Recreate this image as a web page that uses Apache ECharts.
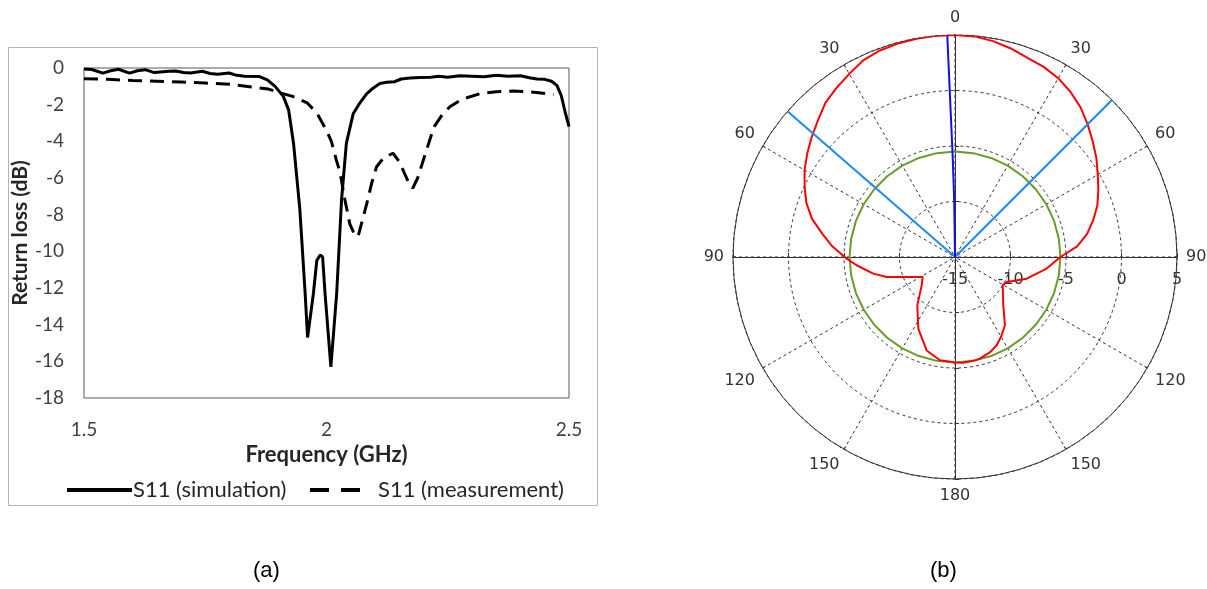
<!DOCTYPE html>
<html><head><meta charset="utf-8">
<script src="https://cdn.jsdelivr.net/npm/echarts@6/dist/echarts.min.js"></script>
<style>html,body{margin:0;padding:0;background:#fff}#c{width:1207px;height:589px}</style>
</head><body><div id="c"></div>
<script>
// ---------- (a) return loss ----------
const FREQ_SIM = [1.500,1.516,1.539,1.555,1.571,1.594,1.610,1.626,1.645,1.657,1.675,1.689,1.705,1.720,1.744,1.760,1.776,1.799,1.815,1.831,1.862,1.878,1.894,1.911,1.922,1.932,1.945,1.956,1.961,1.973,1.980,1.987,1.992,1.997,2.009,2.021,2.031,2.041,2.055,2.069,2.083,2.096,2.110,2.124,2.140,2.154,2.172,2.193,2.215,2.232,2.250,2.275,2.300,2.325,2.350,2.374,2.400,2.421,2.434,2.450,2.464,2.475,2.484,2.492,2.500];
const S11_SIM  = [-0.05,-0.08,-0.28,-0.15,-0.07,-0.28,-0.15,-0.09,-0.25,-0.22,-0.18,-0.16,-0.25,-0.27,-0.18,-0.30,-0.34,-0.27,-0.40,-0.45,-0.47,-0.65,-1.00,-1.55,-2.30,-4.10,-7.70,-12.30,-14.70,-12.30,-10.50,-10.20,-10.30,-12.30,-16.30,-12.30,-7.20,-4.10,-2.50,-1.90,-1.40,-1.10,-0.85,-0.78,-0.75,-0.60,-0.55,-0.52,-0.50,-0.45,-0.50,-0.42,-0.45,-0.48,-0.40,-0.45,-0.42,-0.55,-0.60,-0.62,-0.72,-0.95,-1.50,-2.40,-3.20];
const FREQ_MEAS = [1.500,1.550,1.600,1.650,1.700,1.750,1.800,1.850,1.880,1.910,1.930,1.960,1.980,2.000,2.010,2.020,2.028,2.038,2.048,2.058,2.065,2.072,2.083,2.093,2.103,2.118,2.137,2.150,2.160,2.172,2.178,2.188,2.200,2.212,2.222,2.240,2.255,2.280,2.317,2.350,2.385,2.420,2.447,2.468];
const S11_MEAS  = [-0.58,-0.62,-0.68,-0.72,-0.76,-0.82,-0.88,-1.05,-1.15,-1.40,-1.55,-1.90,-2.45,-3.40,-4.00,-5.00,-5.70,-7.20,-8.50,-9.10,-9.20,-8.50,-7.40,-6.30,-5.40,-4.90,-4.65,-5.10,-5.70,-6.40,-6.55,-6.00,-5.00,-4.00,-3.20,-2.50,-2.10,-1.70,-1.40,-1.30,-1.25,-1.30,-1.38,-1.46];
const X_TICKS = [1.5, 2, 2.5];
const Y_TICKS = [0, -2, -4, -6, -8, -10, -12, -14, -16, -18];
const SERIES_NAMES = ['S11 (simulation)', 'S11 (measurement)'];

// ---------- (b) radiation pattern ----------
const ANGLE_LABELS = [0, 30, 60, 90, 120, 150, 180, 150, 120, 90, 60, 30];
const RADIUS_TICKS = [-15, -10, -5, 0, 5];
const RED_ANGLE = [0, 5, 10, 15, 20, 25, 30, 35, 40, 45, 50, 55, 60, 65, 70, 75, 80, 85, 90, 97.2, 106.8, 115.8, 120.7, 135, 143.8, 150, 154.7, 160, 166.2, 170, 175.5, 180, 188.3, 196.9, 207.1, 218, 229.6, 238.2, 247.5, 253.7, 258.5, 265.2, 269.1, 275, 280, 285, 290, 295, 300, 305, 310, 315, 320, 325, 330, 335, 340, 345, 350, 355, 360];
const RED_DB    = [5.0, 4.95, 4.75, 4.45, 4.1, 3.9, 3.6, 3.15, 2.6, 1.9, 1.2, 0.55, -0.15, -0.75, -1.35, -2.1, -2.9, -3.95, -5.5, -6.68, -8.25, -9.83, -10.0, -8.85, -7.38, -6.7, -6.2, -5.85, -5.57, -5.5, -5.45, -5.5, -5.6, -6.2, -7.75, -9.48, -11.06, -11.58, -10.29, -8.59, -7.49, -6.1, -5.24, -3.9, -2.85, -1.65, -0.75, -0.05, 0.65, 1.25, 1.85, 2.45, 3.15, 3.6, 4.05, 4.55, 4.8, 4.9, 4.97, 5.0, 5.0];
const GREEN_ANGLE = [0,10,20,30,40,50,60,70,80,90,100,110,120,130,140,150,160,170,180,190,200,210,220,230,240,250,260,270,280,290,300,310,320,330,340,350,360];
const GREEN_DB    = [-5.5,-5.5,-5.5,-5.5,-5.5,-5.5,-5.5,-5.5,-5.5,-5.5,-5.5,-5.5,-5.5,-5.5,-5.5,-5.5,-5.5,-5.5,-5.5,-5.5,-5.5,-5.5,-5.5,-5.5,-5.5,-5.5,-5.5,-5.5,-5.5,-5.5,-5.5,-5.5,-5.5,-5.5,-5.5,-5.5,-5.5];
const BEAM_L_ANGLE = [311, 311];
const BEAM_L_DB    = [-15, 5];
const BEAM_R_ANGLE = [45, 45];
const BEAM_R_DB    = [-15, 5];
const MAIN_ANGLE = [0, 359.2, 358.7, 358];
const MAIN_DB    = [-15, -10, -6.1, 5];

const pairs = (xs, ys) => xs.map((x, i) => [x, ys[i]]);
const polarPairs = (angles, dbs) => angles.map((a, i) => [dbs[i], a]);

const chart = echarts.init(document.getElementById('c'), null, {renderer: 'canvas'});
const LFONT = 'Lato, "Open Sans", sans-serif';
const PFONT = '"DejaVu Sans", Verdana, sans-serif';
const gridDash = {type: [3, 3], color: '#333', width: 1};
const SOLID_ICON = 'path://M0,0H65V4H0Z';
const DASH_ICON = 'path://M0,0H19V4H0Z M31,0H50V4H31Z';
const crossTick = {show: true, inside: true, length: 4, lineStyle: {color: '#333'}};

chart.setOption({
  animation: false,
  backgroundColor: '#fff',
  graphic: [
    {type: 'rect', shape: {x: 8.5, y: 47.5, width: 589, height: 458}, style: {fill: 'none', stroke: '#b3b3b3', lineWidth: 1}, silent: true},
    {type: 'text', left: 253, top: 560, style: {text: '(a)', font: '22px "Liberation Sans", Arial, sans-serif', fill: '#000'}},
    {type: 'text', left: 930, top: 560, style: {text: '(b)', font: '22px "Liberation Sans", Arial, sans-serif', fill: '#000'}}
  ],
  legend: [
    {data: [{name: SERIES_NAMES[0], icon: SOLID_ICON}], left: 62, top: 474, symbolKeepAspect: false,
     itemWidth: 65, itemHeight: 4, selectedMode: false,
     textStyle: {fontFamily: LFONT, fontSize: 22, color: '#262626', padding: [0, 0, 0, -4]}},
    {data: [{name: SERIES_NAMES[1], icon: DASH_ICON}], left: 305, top: 474, symbolKeepAspect: false,
     itemWidth: 50, itemHeight: 4, selectedMode: false,
     textStyle: {fontFamily: LFONT, fontSize: 22, color: '#262626', padding: [0, 0, 0, 13]}}
  ],
  grid: [
    {left: 84, top: 68, width: 485, height: 330, show: true, borderColor: '#595959', borderWidth: 1, backgroundColor: 'transparent'},
    {left: 733, top: 35, width: 444, height: 444, show: false}
  ],
  xAxis: [
    {gridIndex: 0, type: 'value', min: X_TICKS[0], max: X_TICKS[X_TICKS.length - 1], interval: 0.5,
     name: 'Frequency (GHz)', nameLocation: 'middle', nameGap: 46,
     nameTextStyle: {fontFamily: LFONT, fontSize: 22, fontWeight: 'bold', color: '#262626'},
     axisLine: {show: false}, axisTick: {show: false}, splitLine: {show: false},
     axisLabel: {margin: 22, fontFamily: LFONT, fontSize: 19, color: '#404040'}},
    {gridIndex: 1, type: 'value', min: -20, max: 20, interval: 5,
     axisLine: {onZero: true, lineStyle: {color: '#333', width: 1}},
     axisTick: crossTick, axisLabel: {show: false}, splitLine: {show: false}}
  ],
  yAxis: [
    {gridIndex: 0, type: 'value', min: Y_TICKS[Y_TICKS.length - 1], max: Y_TICKS[0], interval: 2,
     name: 'Return loss (dB)', nameLocation: 'middle', nameGap: 46,
     nameTextStyle: {fontFamily: LFONT, fontSize: 21, fontWeight: 'bold', color: '#262626'},
     axisLine: {show: false}, axisTick: {show: false}, splitLine: {show: false},
     axisLabel: {margin: 20, fontFamily: LFONT, fontSize: 19, color: '#404040'}},
    {gridIndex: 1, type: 'value', min: -20, max: 20, interval: 5,
     axisLine: {onZero: true, lineStyle: {color: '#333', width: 1}},
     axisTick: crossTick, axisLabel: {show: false}, splitLine: {show: false}}
  ],
  polar: [
    {center: [955, 257], radius: 222},
    {center: [955, 257], radius: 222}
  ],
  angleAxis: [
    {polarIndex: 0, type: 'value', min: 0, max: 360, interval: 30, startAngle: 90, clockwise: true,
     axisLine: {lineStyle: {color: '#333', width: 1}},
     axisTick: {show: true, inside: true, length: 3, lineStyle: {color: '#333'}},
     axisLabel: {margin: 9, fontFamily: PFONT, fontSize: 16, color: '#333',
                 formatter: v => String(ANGLE_LABELS[Math.round(v / 30) % 12])},
     splitLine: {show: true, lineStyle: gridDash}},
    {polarIndex: 1, type: 'value', min: 0, max: 360, startAngle: 0, show: false}
  ],
  radiusAxis: [
    {polarIndex: 0, type: 'value', min: RADIUS_TICKS[0], max: RADIUS_TICKS[RADIUS_TICKS.length - 1], interval: 5,
     axisLine: {show: false}, axisTick: {show: false}, axisLabel: {show: false},
     splitLine: {show: true, lineStyle: gridDash}},
    {polarIndex: 1, type: 'value', min: RADIUS_TICKS[0], max: RADIUS_TICKS[RADIUS_TICKS.length - 1], interval: 5,
     axisLine: {show: false}, axisTick: {show: false},
     axisLabel: {margin: -23, verticalAlign: 'middle', align: 'center', fontFamily: PFONT, fontSize: 16, color: '#333'},
     splitLine: {show: false}}
  ],
  series: [
    {name: SERIES_NAMES[0], type: 'line', xAxisIndex: 0, yAxisIndex: 0, data: pairs(FREQ_SIM, S11_SIM),
     symbol: 'none', showSymbol: false, lineStyle: {color: '#000', width: 3}, itemStyle: {color: '#000'}},
    {name: SERIES_NAMES[1], type: 'line', xAxisIndex: 0, yAxisIndex: 0, data: pairs(FREQ_MEAS, S11_MEAS),
     symbol: 'none', showSymbol: false, lineStyle: {color: '#000', width: 3, type: [14, 8]}, itemStyle: {color: '#000'}},
    {name: 'green', type: 'line', coordinateSystem: 'polar', polarIndex: 0, data: polarPairs(GREEN_ANGLE, GREEN_DB),
     symbol: 'none', lineStyle: {color: '#6a9a2a', width: 2}, z: 3},
    {name: 'red', type: 'line', coordinateSystem: 'polar', polarIndex: 0, data: polarPairs(RED_ANGLE, RED_DB),
     symbol: 'none', lineStyle: {color: '#ff0000', width: 2}, z: 4},
    {name: 'beamL', type: 'line', coordinateSystem: 'polar', polarIndex: 0, data: polarPairs(BEAM_L_ANGLE, BEAM_L_DB),
     symbol: 'none', lineStyle: {color: '#1e88ee', width: 2}, z: 5},
    {name: 'beamR', type: 'line', coordinateSystem: 'polar', polarIndex: 0, data: polarPairs(BEAM_R_ANGLE, BEAM_R_DB),
     symbol: 'none', lineStyle: {color: '#1e88ee', width: 2}, z: 5},
    {name: 'main', type: 'line', coordinateSystem: 'polar', polarIndex: 0, data: polarPairs(MAIN_ANGLE, MAIN_DB),
     symbol: 'none', lineStyle: {color: '#1010ee', width: 2}, z: 6}
  ]
});
</script></body></html>
